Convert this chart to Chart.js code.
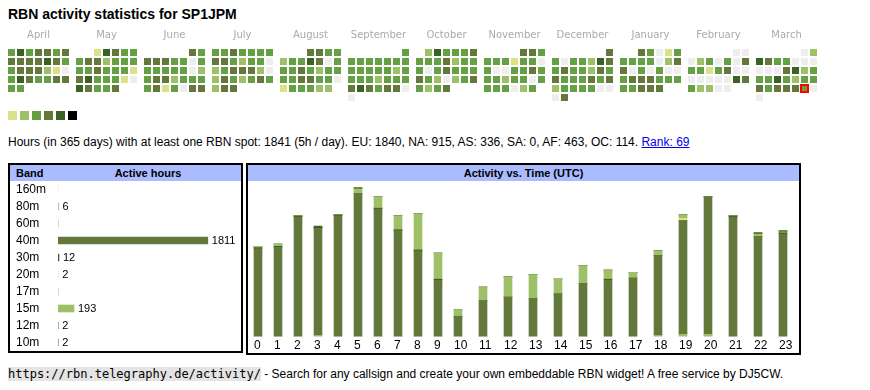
<!DOCTYPE html>
<html>
<head>
<meta charset="utf-8">
<title>RBN activity statistics for SP1JPM</title>
<script src="https://cdn.jsdelivr.net/npm/chart.js@4.4.1/dist/chart.umd.min.js"></script>
<style>
  body { margin: 0; background: #fff; color: #000; font-family: Arial, 'Liberation Sans', sans-serif; font-size: 12px; }
  h1 { position: absolute; left: 8px; top: 6px; margin: 0; font-size: 14px; line-height: 16px; }
  #heat { position: absolute; left: 7px; top: 25px; }
  #legend { position: absolute; left: 8px; top: 111px; display: flex; gap: 3px; }
  #legend span { display: block; width: 9px; height: 9px; }
  .stats { position: absolute; left: 8px; top: 135px; line-height: 14px; white-space: nowrap; }
  .stats a { color: #0000ee; }
  .box { position: absolute; border: 2px solid #000; box-sizing: border-box; }
  .head { position: relative; height: 16px; line-height: 16px; background: #aabbff; font-weight: bold; font-size: 11px; }
  .box canvas { position: absolute; left: 0; top: 16px; }
  .footer { position: absolute; left: 8px; top: 367px; line-height: 14px; white-space: nowrap; }
  .footer code { font-family: 'DejaVu Sans Mono', monospace; font-size: 12px; background: #e4e4e4; }
</style>
</head>
<body>
<h1>RBN activity statistics for SP1JPM</h1>
<canvas id="heat" width="819" height="80"></canvas>
<div id="legend"></div>
<div class="stats">Hours (in 365 days) with at least one RBN spot: 1841 (5h / day). EU: 1840, NA: 915, AS: 336, SA: 0, AF: 463, OC: 114. <a href="#">Rank: 69</a></div>

<div class="box" style="left:8px; top:163px; width:235px; height:190px;">
  <div class="head"><span style="position:absolute; left:6px;">Band</span><span style="position:absolute; left:138px; transform:translateX(-50%);">Active hours</span></div>
  <canvas id="bandChart" width="231" height="170"></canvas>
</div>

<div class="box" style="left:246px; top:163px; width:555px; height:192px;">
  <div class="head" style="text-align:center;">Activity vs. Time (UTC)</div>
  <canvas id="timeChart" width="551" height="174"></canvas>
</div>

<div class="footer"><code>https://rbn.telegraphy.de/activity/</code> - Search for any callsign and create your own embeddable RBN widget! A free service by DJ5CW.</div>

<script>
// calendar months, April 2024 .. March 2025
let months = ['April', 'May', 'June', 'July', 'August', 'September', 'October', 'November', 'December', 'January', 'February', 'March']

// activity level of every day (0 = no spot, 1 .. 5 = more active hours)
let apr24 = [3,5,3,4,4,3,4, 4,4,4,4,5,4,3, 3,4,4,4,2,1,0, 3,5,4,3,3,4,4, 3,3]
let may24 = [1,5,4,3,3, 3,4,4,2,3,3,3, 3,3,4,3,3,3,1, 4,5,3,3,3,1,0, 5,4,3,3,4]
let jun24 = [4,3, 4,4,4,3,3,0,3, 3,3,3,3,3,0,2, 3,4,4,2,3,3,3, 3,4,1,3,0,4,4]
let jul24 = [3,3,4,3,3,3,3, 4,4,3,2,3,3,0, 2,3,4,4,4,2,0, 2,4,3,2,3,4,3, 2,4,4]
let aug24 = [4,4,3,3, 2,3,3,5,4,0,3, 3,3,4,3,2,3,3, 3,3,4,4,3,3,0, 1,3,3,3,2,2]
let sep24 = [3, 3,3,3,3,3,3,3, 3,3,3,3,3,2,3, 3,3,3,2,3,3,3, 4,5,4,3,4,4,0, 0]
let oct24 = [2,5,3,3,3,4, 3,3,3,4,2,3,3, 3,0,3,4,3,3,3, 4,3,2,0,2,3,4, 3,2,3,4]
let nov24 = [4,4,3, 3,3,3,1,3,3,0, 3,0,0,3,3,4,3, 3,3,2,3,3,0,3, 3,3,3,0,2,3]
let dec24 = [4, 3,0,3,3,2,5,4, 3,4,3,3,2,4,3, 4,3,3,3,4,3,4, 2,3,3,3,3,0,0, 0,4]
let jan25 = [4,3,0,1,3, 3,3,3,3,0,2,4, 4,0,3,0,3,0,0, 3,4,4,4,3,3,3, 3,3,4,4,4]
let feb25 = [0,0, 0,2,3,0,3,0,4, 3,3,1,3,4,0,0, 0,0,0,0,0,5,4, 3,2,2,0,0]
let mar25 = [0,2, 5,4,3,3,0,0,0, 0,0,0,4,5,2,3, 3,3,5,3,2,3,3, 4,3,4,4,4,3,0, 0]
let monthLevels = [apr24, may24, jun24, jul24, aug24, sep24, oct24, nov24, dec24, jan25, feb25, mar25]
let todayDay = 29   // March 29 is marked

let levelColors = ['#eeeeee', '#dbe08a', '#9dc069', '#66a044', '#63783a', '#3a6323', '#000000']

// active hours per band
let bands = ['160m', '80m', '60m', '40m', '30m', '20m', '17m', '15m', '12m', '10m']
let bandHours = [0, 6, 0, 1811, 12, 2, 0, 193, 2, 2]
let bandColors = ['#dbe08a', '#9dc069', '#66a044', '#63783a', '#3a6323', '#dbe08a', '#66a044', '#9dc069', '#3a6323', '#3a6323']

// activity vs. time (UTC), hours per band
let hours = ['0','1','2','3','4','5','6','7','8','9','10','11','12','13','14','15','16','17','18','19','20','21','22','23']
let h80m = [0,0,0,1,0,0,0,0,0,0,0,0,0,0,0,0,0,0,1,2,2,0,0,0]
let h40m = [78,79,106,95,107,127,113,94,76,50,18,32,35,34,38,47,50,52,71,101,122,106,89,91]
let h30m = [1,1,1,1,1,0,1,1,1,1,0,0,0,0,0,0,1,0,0,0,0,1,0,1]
let h20m = [0,0,0,0,0,0,0,0,0,0,0,0,0,0,0,0,0,0,0,2,0,0,0,0]
let h15m = [1,2,0,0,0,4,10,12,32,23,6,12,18,21,13,16,8,5,4,3,0,0,2,1]
let h12m = [0,0,0,0,0,1,0,0,0,0,0,0,0,0,0,0,0,0,0,0,0,0,1,0]
let h10m = [0,0,0,1,0,0,0,0,0,0,0,0,0,0,0,0,0,0,0,0,0,0,0,1]

let font = "Arial, 'Liberation Sans', sans-serif"

// no extra room for the first / last tick label
let noPadding = s => {
  s.paddingLeft = 0
  s.paddingRight = 0
  s.paddingTop = 0
  s.paddingBottom = 0
}

// legend swatches
let legend = document.getElementById('legend')
levelColors.slice(1).forEach(c => {
  let s = document.createElement('span')
  s.style.background = c
  legend.appendChild(s)
})

//
// calendar: one column per weekday, one row per week, a block per month
let BLOCK = 68 / 9
let cells = []
monthLevels.forEach((levels, m) => {
  let first = (new Date(2024, 3 + m, 1).getDay() + 6) % 7
  levels.forEach((lvl, i) => {
    let pos = first + i
    cells.push({ x: m * BLOCK + pos % 7, y: Math.floor(pos / 7), level: lvl, today: m == 11 && i + 1 == todayDay })
  })
})

new Chart(document.getElementById('heat'), {
  type: 'scatter',
  data: {
    datasets: [{
      data: cells,
      pointStyle: 'rect',
      pointRadius: 3.5 / Math.SQRT1_2,
      pointHoverRadius: 0,
      pointBackgroundColor: c => c.raw ? levelColors[c.raw.level] : '#eee',
      pointBorderColor: '#ff0000',
      pointBorderWidth: c => c.raw && c.raw.today ? 2 : 0
    }]
  },
  options: {
    animation: false,
    events: [],
    responsive: false,
    layout: { autoPadding: false, padding: { bottom: 3 } },
    plugins: { legend: { display: false }, tooltip: { enabled: false } },
    scales: {
      x: {
        type: 'linear', position: 'top', min: -0.5, max: 90.5,
        grid: { display: false, drawTicks: false }, border: { display: false },
        afterBuildTicks: s => { s.ticks = months.map((_, m) => ({ value: m * BLOCK + 3 })) },
        afterFit: s => { s.height = 23; noPadding(s) },
        ticks: { autoSkip: false, maxRotation: 0, padding: 7, color: '#aaa', font: { family: 'DejaVu Sans', size: 10 }, callback: (v, i) => months[i] }
      },
      y: { display: false, reverse: true, min: -0.5, max: 5.5 }
    }
  }
})

//
// band chart
let valueLabels = {
  id: 'valueLabels',
  afterDatasetsDraw(chart) {
    let ctx = chart.ctx
    ctx.save()
    ctx.font = '11px ' + font
    ctx.fillStyle = '#000'
    ctx.textBaseline = 'middle'
    chart.getDatasetMeta(0).data.forEach((bar, i) => {
      if (bandHours[i] > 0) ctx.fillText(bandHours[i], bar.x + 4, bar.y)
    })
    ctx.restore()
  }
}

new Chart(document.getElementById('bandChart'), {
  type: 'bar',
  data: { labels: bands, datasets: [{ data: bandHours, backgroundColor: bandColors, barThickness: 7 }] },
  options: {
    indexAxis: 'y',
    animation: false,
    events: [],
    responsive: false,
    layout: { autoPadding: false, padding: { left: 6, right: 1 } },
    plugins: { legend: { display: false }, tooltip: { enabled: false } },
    scales: {
      x: { display: false, min: 0, max: 2200 },
      y: {
        grid: { display: false, drawTicks: false }, border: { display: false },
        afterFit: s => { s.width = 42; noPadding(s) },
        ticks: { autoSkip: false, crossAlign: 'far', padding: 0, color: '#000', font: { family: font, size: 12 } }
      }
    }
  },
  plugins: [valueLabels]
})

//
// time chart, the columns are as wide as their hour label (like the table cells of the widget)
let barLeft = []
let acc = 0
hours.forEach(h => { barLeft.push(acc + 6); acc += 15 + 5 * h.length })

let series = [
  { band: '80m', data: h80m }, { band: '40m', data: h40m }, { band: '30m', data: h30m },
  { band: '20m', data: h20m }, { band: '15m', data: h15m }, { band: '12m', data: h12m }, { band: '10m', data: h10m }
]

new Chart(document.getElementById('timeChart'), {
  type: 'bar',
  data: {
    datasets: series.map(s => ({
      label: s.band,
      data: s.data.map((v, i) => ({ x: barLeft[i] + 4, y: v })),
      backgroundColor: bandColors[bands.indexOf(s.band)],
      barThickness: 8
    }))
  },
  options: {
    animation: false,
    events: [],
    responsive: false,
    layout: { autoPadding: false },
    plugins: { legend: { display: false }, tooltip: { enabled: false } },
    scales: {
      x: {
        type: 'linear', stacked: true, offset: false, min: 0, max: 551,
        grid: { display: false, drawTicks: false }, border: { display: false },
        afterBuildTicks: s => { s.ticks = barLeft.map(v => ({ value: v })) },
        afterFit: noPadding,
        ticks: { autoSkip: false, maxRotation: 0, align: 'start', padding: 2, color: '#000', font: { family: font, size: 12 }, callback: (v, i) => hours[i] }
      },
      y: { display: false, stacked: true, min: 0, max: 138 }
    }
  }
})
</script>
</body>
</html>
